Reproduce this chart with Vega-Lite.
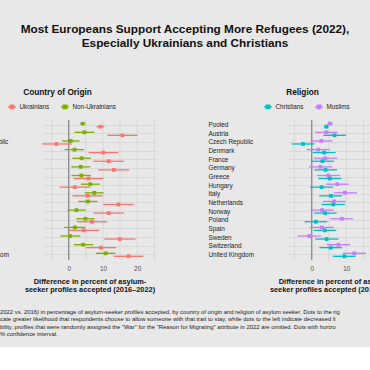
{
  "$schema": "https://vega.github.io/schema/vega-lite/v6.json",
  "background": "#e8e8e8",
  "padding": {"left": -37, "top": 24, "right": -31, "bottom": 10},
  "title": {
    "text": ["Most Europeans Support Accepting More Refugees (2022),", "Especially Ukrainians and Christians"],
    "fontSize": 11.8, "fontWeight": "bold", "lineHeight": 14.3, "anchor": "middle", "dx": 3, "offset": 38, "color": "#111111", "font": "Liberation Sans"
  },
  "datasets": {
    "origin": [
      {"country": "Pooled", "group": "Non-Ukrainians", "est": 4.1, "lo": 3.4, "hi": 4.9},
      {"country": "Pooled", "group": "Ukrainians", "est": 9.3, "lo": 8.1, "hi": 10.4},
      {"country": "Austria", "group": "Non-Ukrainians", "est": 4.6, "lo": 1.7, "hi": 7.5},
      {"country": "Austria", "group": "Ukrainians", "est": 15.7, "lo": 11.3, "hi": 20.1},
      {"country": "Czech Republic", "group": "Non-Ukrainians", "est": 0.6, "lo": -1.9, "hi": 3.2},
      {"country": "Czech Republic", "group": "Ukrainians", "est": -3.6, "lo": -7.8, "hi": 0.9},
      {"country": "Denmark", "group": "Non-Ukrainians", "est": 1.7, "lo": -1.2, "hi": 4.5},
      {"country": "Denmark", "group": "Ukrainians", "est": 10.1, "lo": 5.8, "hi": 14.5},
      {"country": "France", "group": "Non-Ukrainians", "est": 3.8, "lo": 1.1, "hi": 6.5},
      {"country": "France", "group": "Ukrainians", "est": 11.7, "lo": 7.2, "hi": 16.2},
      {"country": "Germany", "group": "Non-Ukrainians", "est": 3.5, "lo": 0.8, "hi": 6.3},
      {"country": "Germany", "group": "Ukrainians", "est": 13.2, "lo": 8.6, "hi": 17.7},
      {"country": "Greece", "group": "Non-Ukrainians", "est": 3.7, "lo": 0.8, "hi": 6.5},
      {"country": "Greece", "group": "Ukrainians", "est": 5.8, "lo": 1.4, "hi": 10.1},
      {"country": "Hungary", "group": "Non-Ukrainians", "est": 6.3, "lo": 3.6, "hi": 9.1},
      {"country": "Hungary", "group": "Ukrainians", "est": 1.8, "lo": -2.7, "hi": 6.3},
      {"country": "Italy", "group": "Non-Ukrainians", "est": 7.5, "lo": 4.7, "hi": 10.2},
      {"country": "Italy", "group": "Ukrainians", "est": 5.5, "lo": 1.1, "hi": 9.9},
      {"country": "Netherlands", "group": "Non-Ukrainians", "est": 5.6, "lo": 2.8, "hi": 8.4},
      {"country": "Netherlands", "group": "Ukrainians", "est": 14.5, "lo": 10.1, "hi": 18.9},
      {"country": "Norway", "group": "Non-Ukrainians", "est": 2.3, "lo": -0.4, "hi": 4.9},
      {"country": "Norway", "group": "Ukrainians", "est": 11.7, "lo": 7.3, "hi": 16.2},
      {"country": "Poland", "group": "Non-Ukrainians", "est": 4.9, "lo": 2.2, "hi": 7.6},
      {"country": "Poland", "group": "Ukrainians", "est": 6.8, "lo": 2.4, "hi": 11.2},
      {"country": "Spain", "group": "Non-Ukrainians", "est": 1.8, "lo": -1.3, "hi": 4.8},
      {"country": "Spain", "group": "Ukrainians", "est": 4.4, "lo": 0.0, "hi": 8.9},
      {"country": "Sweden", "group": "Non-Ukrainians", "est": 0.4, "lo": -2.4, "hi": 3.4},
      {"country": "Sweden", "group": "Ukrainians", "est": 14.9, "lo": 10.4, "hi": 19.5},
      {"country": "Switzerland", "group": "Non-Ukrainians", "est": 4.2, "lo": 1.5, "hi": 7.1},
      {"country": "Switzerland", "group": "Ukrainians", "est": 9.4, "lo": 5.0, "hi": 13.9},
      {"country": "United Kingdom", "group": "Non-Ukrainians", "est": 10.8, "lo": 8.0, "hi": 13.7},
      {"country": "United Kingdom", "group": "Ukrainians", "est": 17.5, "lo": 13.1, "hi": 21.8}
    ],
    "religion": [
      {"country": "Pooled", "group": "Muslims", "est": 5.3, "lo": 4.5, "hi": 6.1},
      {"country": "Pooled", "group": "Christians", "est": 4.2, "lo": 3.6, "hi": 4.9},
      {"country": "Austria", "group": "Muslims", "est": 4.2, "lo": 1.0, "hi": 7.5},
      {"country": "Austria", "group": "Christians", "est": 6.6, "lo": 3.4, "hi": 9.9},
      {"country": "Czech Republic", "group": "Muslims", "est": 2.8, "lo": -0.4, "hi": 6.0},
      {"country": "Czech Republic", "group": "Christians", "est": -2.5, "lo": -5.8, "hi": 0.8},
      {"country": "Denmark", "group": "Muslims", "est": 1.9, "lo": -1.4, "hi": 5.2},
      {"country": "Denmark", "group": "Christians", "est": 3.6, "lo": 0.3, "hi": 6.9},
      {"country": "France", "group": "Muslims", "est": 3.9, "lo": 0.7, "hi": 7.4},
      {"country": "France", "group": "Christians", "est": 3.1, "lo": -0.2, "hi": 6.4},
      {"country": "Germany", "group": "Muslims", "est": 2.5, "lo": -0.8, "hi": 6.0},
      {"country": "Germany", "group": "Christians", "est": 4.0, "lo": 0.8, "hi": 7.3},
      {"country": "Greece", "group": "Muslims", "est": 4.8, "lo": 1.5, "hi": 8.2},
      {"country": "Greece", "group": "Christians", "est": 5.3, "lo": 1.9, "hi": 8.6},
      {"country": "Hungary", "group": "Muslims", "est": 7.4, "lo": 4.1, "hi": 10.7},
      {"country": "Hungary", "group": "Christians", "est": 2.9, "lo": -0.5, "hi": 6.2},
      {"country": "Italy", "group": "Muslims", "est": 9.6, "lo": 6.4, "hi": 13.1},
      {"country": "Italy", "group": "Christians", "est": 5.6, "lo": 2.2, "hi": 8.8},
      {"country": "Netherlands", "group": "Muslims", "est": 6.5, "lo": 3.3, "hi": 9.8},
      {"country": "Netherlands", "group": "Christians", "est": 6.2, "lo": 2.8, "hi": 9.6},
      {"country": "Norway", "group": "Muslims", "est": 3.0, "lo": -0.4, "hi": 6.4},
      {"country": "Norway", "group": "Christians", "est": 3.9, "lo": 0.7, "hi": 7.2},
      {"country": "Poland", "group": "Muslims", "est": 8.7, "lo": 5.4, "hi": 11.9},
      {"country": "Poland", "group": "Christians", "est": 1.2, "lo": -2.1, "hi": 4.5},
      {"country": "Spain", "group": "Muslims", "est": 2.9, "lo": -0.6, "hi": 6.4},
      {"country": "Spain", "group": "Christians", "est": 3.8, "lo": 0.6, "hi": 7.1},
      {"country": "Sweden", "group": "Muslims", "est": -0.7, "lo": -4.0, "hi": 2.7},
      {"country": "Sweden", "group": "Christians", "est": 4.3, "lo": 1.0, "hi": 7.7},
      {"country": "Switzerland", "group": "Muslims", "est": 7.7, "lo": 4.4, "hi": 11.1},
      {"country": "Switzerland", "group": "Christians", "est": 5.5, "lo": 2.2, "hi": 8.8},
      {"country": "United Kingdom", "group": "Muslims", "est": 12.3, "lo": 9.0, "hi": 15.7},
      {"country": "United Kingdom", "group": "Christians", "est": 9.4, "lo": 6.1, "hi": 12.7}
    ],
    "grid": [{"g": -5}, {"g": 0}, {"g": 5}, {"g": 10}, {"g": 15}, {"g": 20}, {"g": 25}],
    "zero": [{"v": 0}]
  },
  "vconcat": [
    {
      "title": {
        "text": [
          "2022 vs. 2016) in percentage of asylum-seeker profiles accepted, by country of origin and religion of asylum seeker. Dots to the rig",
          "cate greater likelihood that respondents choose to allow someone with that trait to stay, while dots to the left indicate decreased li",
          "bility, profiles that were randomly assigned the \"War\" for the \"Reason for Migrating\" attribute in 2022 are omitted. Dots with horizo",
          "% confidence interval."
        ],
        "orient": "bottom", "anchor": "start", "fontSize": 5.9, "fontWeight": "normal", "lineHeight": 7.4,
        "dx": 37, "offset": 16, "color": "#222222", "font": "Liberation Sans"
      },
      "spacing": 52,
      "resolve": {"scale": {"x": "independent", "y": "independent", "color": "independent", "yOffset": "independent"}, "legend": {"color": "independent"}},
      "hconcat": [
        {
          "width": 113, "height": 140,
          "title": {"text": "Country of Origin", "fontSize": 8.3, "fontWeight": "bold", "anchor": "middle", "dx": -42, "offset": 5, "color": "#111111", "font": "Liberation Sans"},
          "layer": [
            {
              "data": {"name": "grid"},
              "mark": {"type": "rule", "color": "#d4d4d4", "strokeWidth": 0.8},
              "encoding": {"x": {"field": "g", "type": "quantitative", "scale": {"domain": [-7.5, 25.5], "nice": false, "zero": false},
                "axis": {"values": [0, 10, 20], "title": ["Difference in percent of asylum-", "seeker profiles accepted (2016\u20132022)"],
                  "titleX": 46.5, "titleFontSize": 7.4, "titleFontWeight": "bold", "titleLineHeight": 7.5, "titlePadding": 6, "titleColor": "#111111", "titleFont": "Liberation Sans",
                  "labelFontSize": 6.4, "labelColor": "#4d4d4d", "labelPadding": 5.5, "labelFont": "Liberation Sans", "ticks": false, "domain": false, "grid": false}}}
            },
            {
              "data": {"name": "zero"},
              "mark": {"type": "rule", "color": "#8c8c8c", "strokeWidth": 1.3},
              "encoding": {"x": {"field": "v", "type": "quantitative"}}
            },
            {
              "data": {"name": "origin"},
              "mark": {"type": "rule", "strokeWidth": 1.3},
              "encoding": {
                "y": {"field": "country", "type": "nominal", "sort": ["Pooled", "Austria", "Czech Republic", "Denmark", "France", "Germany", "Greece", "Hungary", "Italy", "Netherlands", "Norway", "Poland", "Spain", "Sweden", "Switzerland", "United Kingdom"],
                  "scale": {"type": "band", "paddingInner": 0, "paddingOuter": 0.1},
                  "axis": {"title": null, "labelAlign": "left", "labelPadding": 80, "ticks": false, "tickSize": 0, "domain": false, "grid": true, "gridColor": "#d4d4d4", "gridWidth": 0.8, "labelFontSize": 6.4, "labelColor": "#222222", "labelFont": "Liberation Sans"}},
                "yOffset": {"field": "group", "type": "nominal", "sort": ["Non-Ukrainians", "Ukrainians"], "scale": {"paddingInner": 0, "paddingOuter": 0.44}},
                "x": {"field": "lo", "type": "quantitative"},
                "x2": {"field": "hi"},
                "color": {"field": "group", "type": "nominal", "scale": {"domain": ["Ukrainians", "Non-Ukrainians"], "range": ["#F8766D", "#7CAE00"]},
                  "legend": {"orient": "none", "legendX": -36, "legendY": -18.5, "direction": "horizontal", "title": null, "padding": 0,
                    "symbolType": "M-1,0L1,0M-0.45,-0.45L0.45,-0.45L0.45,0.45L-0.45,0.45Z", "symbolSize": 64, "symbolStrokeWidth": 1.2,
                    "labelFontSize": 6.3, "labelColor": "#222222", "labelFont": "Liberation Sans", "labelOffset": 2.5, "columnPadding": 8,
                    "encode": {"symbols": {"update": {"stroke": {"signal": "datum.value === 'Ukrainians' ? '#F8766D' : '#7CAE00'"}, "fill": {"signal": "datum.value === 'Ukrainians' ? '#F8766D' : '#7CAE00'"}, "opacity": {"value": 1}}}}}}
              }
            },
            {
              "data": {"name": "origin"},
              "mark": {"type": "point", "shape": "square", "filled": true, "size": 14, "opacity": 1},
              "encoding": {
                "y": {"field": "country", "type": "nominal", "sort": ["Pooled", "Austria", "Czech Republic", "Denmark", "France", "Germany", "Greece", "Hungary", "Italy", "Netherlands", "Norway", "Poland", "Spain", "Sweden", "Switzerland", "United Kingdom"]},
                "yOffset": {"field": "group", "type": "nominal", "sort": ["Non-Ukrainians", "Ukrainians"]},
                "x": {"field": "est", "type": "quantitative"},
                "color": {"field": "group", "type": "nominal"}
              }
            }
          ]
        },
        {
          "width": 113, "height": 140,
          "title": {"text": "Religion", "fontSize": 8.3, "fontWeight": "bold", "anchor": "middle", "dx": -42, "offset": 5, "color": "#111111", "font": "Liberation Sans"},
          "layer": [
            {
              "data": {"name": "grid"},
              "mark": {"type": "rule", "color": "#d4d4d4", "strokeWidth": 0.8},
              "encoding": {"x": {"field": "g", "type": "quantitative", "scale": {"domain": [-6.85, 25.8], "nice": false, "zero": false},
                "axis": {"values": [0, 10, 20], "title": ["Difference in percent of asylum-", "seeker profiles accepted (2016\u20132022)"],
                  "titleX": 46.5, "titleFontSize": 7.4, "titleFontWeight": "bold", "titleLineHeight": 7.5, "titlePadding": 6, "titleColor": "#111111", "titleFont": "Liberation Sans",
                  "labelFontSize": 6.4, "labelColor": "#4d4d4d", "labelPadding": 5.5, "labelFont": "Liberation Sans", "ticks": false, "domain": false, "grid": false}}}
            },
            {
              "data": {"name": "zero"},
              "mark": {"type": "rule", "color": "#8c8c8c", "strokeWidth": 1.3},
              "encoding": {"x": {"field": "v", "type": "quantitative"}}
            },
            {
              "data": {"name": "religion"},
              "mark": {"type": "rule", "strokeWidth": 1.3},
              "encoding": {
                "y": {"field": "country", "type": "nominal", "sort": ["Pooled", "Austria", "Czech Republic", "Denmark", "France", "Germany", "Greece", "Hungary", "Italy", "Netherlands", "Norway", "Poland", "Spain", "Sweden", "Switzerland", "United Kingdom"],
                  "scale": {"type": "band", "paddingInner": 0, "paddingOuter": 0.1},
                  "axis": {"title": null, "labelAlign": "left", "labelPadding": 80, "ticks": false, "tickSize": 0, "domain": false, "grid": true, "gridColor": "#d4d4d4", "gridWidth": 0.8, "labelFontSize": 6.4, "labelColor": "#222222", "labelFont": "Liberation Sans"}},
                "yOffset": {"field": "group", "type": "nominal", "sort": ["Muslims", "Christians"], "scale": {"paddingInner": 0, "paddingOuter": 0.44}},
                "x": {"field": "lo", "type": "quantitative"},
                "x2": {"field": "hi"},
                "color": {"field": "group", "type": "nominal", "scale": {"domain": ["Christians", "Muslims"], "range": ["#00BFC4", "#C77CFF"]},
                  "legend": {"orient": "none", "legendX": -25, "legendY": -18.5, "direction": "horizontal", "title": null, "padding": 0,
                    "symbolType": "M-1,0L1,0M-0.45,-0.45L0.45,-0.45L0.45,0.45L-0.45,0.45Z", "symbolSize": 64, "symbolStrokeWidth": 1.2,
                    "labelFontSize": 6.3, "labelColor": "#222222", "labelFont": "Liberation Sans", "labelOffset": 2.5, "columnPadding": 8,
                    "encode": {"symbols": {"update": {"stroke": {"signal": "datum.value === 'Christians' ? '#00BFC4' : '#C77CFF'"}, "fill": {"signal": "datum.value === 'Christians' ? '#00BFC4' : '#C77CFF'"}, "opacity": {"value": 1}}}}}}
              }
            },
            {
              "data": {"name": "religion"},
              "mark": {"type": "point", "shape": "square", "filled": true, "size": 14, "opacity": 1},
              "encoding": {
                "y": {"field": "country", "type": "nominal", "sort": ["Pooled", "Austria", "Czech Republic", "Denmark", "France", "Germany", "Greece", "Hungary", "Italy", "Netherlands", "Norway", "Poland", "Spain", "Sweden", "Switzerland", "United Kingdom"]},
                "yOffset": {"field": "group", "type": "nominal", "sort": ["Muslims", "Christians"]},
                "x": {"field": "est", "type": "quantitative"},
                "color": {"field": "group", "type": "nominal"}
              }
            }
          ]
        }
      ]
    }
  ],
  "config": {
    "font": "Liberation Sans",
    "view": {"stroke": null}
  }
}
